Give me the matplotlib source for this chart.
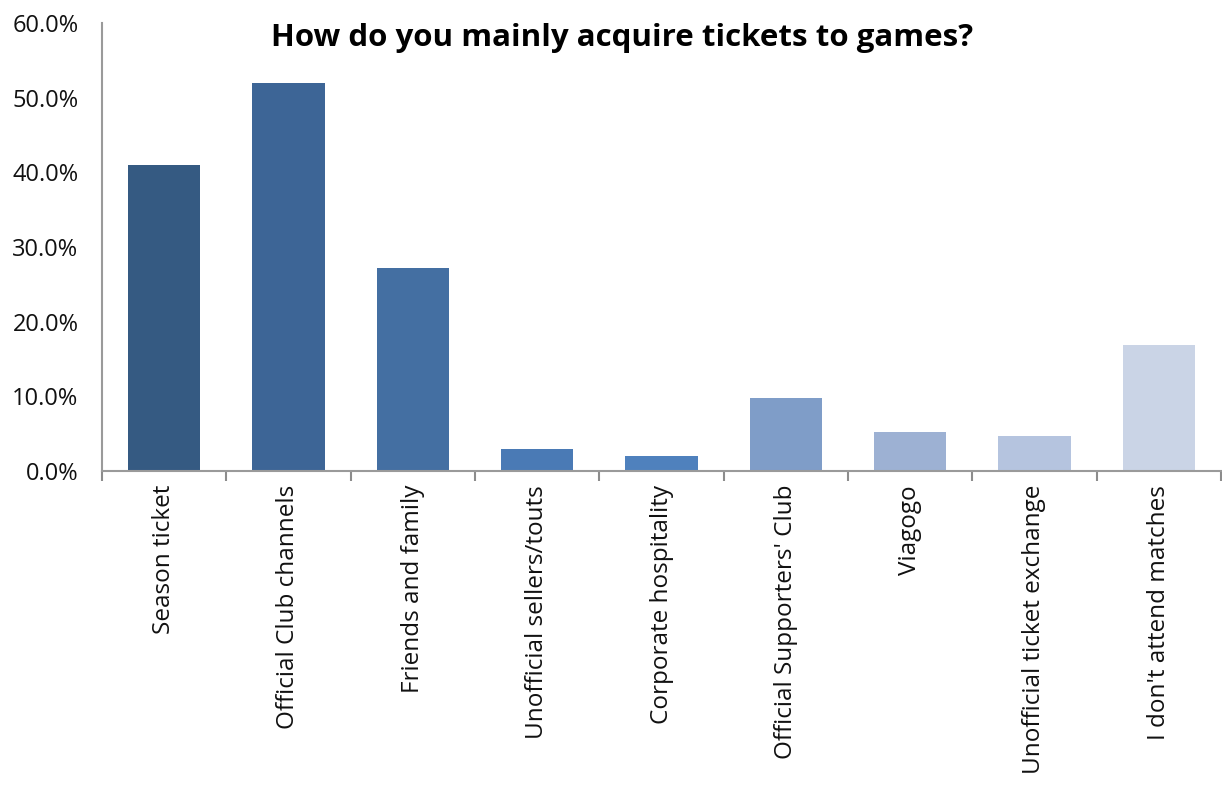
import matplotlib.pyplot as plt
from matplotlib.ticker import FixedLocator, PercentFormatter

categories = [
    "Season ticket",
    "Official Club channels",
    "Friends and family",
    "Unofficial sellers/touts",
    "Corporate hospitality",
    "Official Supporters' Club",
    "Viagogo",
    "Unofficial ticket exchange",
    "I don't attend matches",
]
shares = [41.0, 52.0, 27.2, 2.9, 2.0, 9.8, 5.2, 4.7, 16.9]
bar_colors = [
    "#355A82", "#3D6596", "#446FA2", "#4A7AB5", "#4F81BD",
    "#7F9DC8", "#9DB1D3", "#B5C4DF", "#CAD4E6",
]

plt.rcParams["font.family"] = ["Open Sans", "DejaVu Sans"]

fig = plt.figure(figsize=(12.22, 7.91), dpi=100)
ax = fig.add_axes([102 / 1222, 1 - 471 / 791, 1119 / 1222, 448 / 791])

x = list(range(len(categories)))
ax.bar(x, shares, width=0.58, color=bar_colors, zorder=2)

ax.set_xlim(-0.5, len(categories) - 0.5)
ax.set_ylim(0, 60)
ax.yaxis.set_major_locator(FixedLocator([0, 10, 20, 30, 40, 50, 60]))
ax.yaxis.set_major_formatter(PercentFormatter(decimals=1))

# category labels at bar centres, tick marks at category boundaries
ax.set_xticks(x)
ax.set_xticklabels(categories, rotation=90, fontsize=17.5, color="#111111")
ax.set_xticks([i - 0.5 for i in range(len(categories) + 1)], minor=True)
ax.tick_params(axis="x", which="major", length=0, pad=10)
ax.tick_params(axis="x", which="minor", length=7, width=1.5, color="#8c8c8c")
ax.tick_params(axis="y", length=0, labelsize=17, pad=17, labelcolor="#111111")

for side in ["top", "right"]:
    ax.spines[side].set_visible(False)
for side in ["left", "bottom"]:
    ax.spines[side].set_color("#9a9a9a")
    ax.spines[side].set_linewidth(1.5)

fig.text(622 / 1222, 1 - 38 / 791, "How do you mainly acquire tickets to games?",
         ha="center", va="center", fontsize=22.5, fontweight="bold", color="#000000")

fig.savefig("out.png", dpi=100)
